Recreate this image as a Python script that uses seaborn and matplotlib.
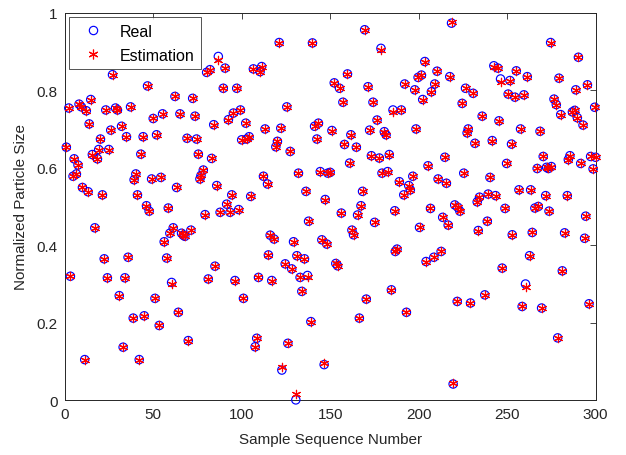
import matplotlib
matplotlib.use("Agg")
import matplotlib.pyplot as plt
import seaborn as sns
from matplotlib.lines import Line2D

x_vals = [
    0.9, 2.3, 3.2, 4.7, 5.3, 6.6, 7.5, 8.1, 9.4, 10.0,
    11.3, 12.2, 13.2, 13.8, 14.7, 15.6, 17.0, 18.5, 19.2, 20.2,
    21.3, 22.3, 23.2, 24.1, 24.9, 26.0, 27.0, 28.7, 29.8, 30.8,
    32.1, 33.0, 34.0, 34.9, 35.8, 37.2, 38.7, 39.2, 40.2, 41.1,
    42.1, 43.0, 44.3, 44.9, 46.2, 46.8, 47.7,
    49.1, 50.0, 51.0, 51.9, 53.4, 54.3, 55.3, 56.2, 57.6, 58.5,
    59.4, 60.4, 61.3, 62.3, 63.2, 64.2, 65.1, 66.0, 67.0, 67.9,
    69.1, 69.8, 71.3, 72.3, 73.6, 74.5, 75.5, 76.4, 77.0, 78.3,
    79.3, 80.2, 81.1, 82.1, 83.0, 84.2, 84.9, 85.9, 86.8, 87.8,
    89.6, 90.6, 91.5, 92.5, 93.4, 94.4, 95.3, 96.2, 97.2, 98.3,
    99.3, 100.0, 101.0, 102.3, 102.8, 104.2, 105.1, 106.6, 107.6, 108.5,
    109.5, 110.4, 111.3, 112.3, 113.2, 114.6, 115.1, 116.1, 117.0, 118.3,
    119.3, 120.2, 121.2, 122.1, 122.7, 124.6, 125.5, 126.1, 127.4, 128.3,
    129.3, 130.6, 131.2, 132.1, 133.0, 134.0, 135.5, 136.3, 137.2, 137.8,
    139.1, 140.0, 141.2, 142.5, 143.4, 144.4, 145.3, 146.6, 147.2, 148.1,
    148.7,
    150.0, 151.0, 152.3, 153.2, 154.2, 155.3, 156.3, 157.2, 158.1, 159.8,
    161.0, 161.7, 162.3, 163.2, 164.8, 165.5, 166.5, 167.4, 168.3, 169.5,
    170.4, 171.4, 172.3, 173.3, 174.2, 175.1, 176.5, 177.8, 178.7, 179.3,
    180.6, 181.6, 182.5, 183.4, 184.6, 185.5, 186.5, 186.8, 187.8, 189.1,
    190.2, 191.6, 192.1, 193.1, 194.4, 195.3, 196.7, 197.8, 198.5, 199.7,
    200.5, 201.6, 202.3, 203.5, 204.2, 205.3, 206.7, 207.2, 208.6, 209.1,
    210.4, 211.0, 212.7, 213.6, 214.8, 215.7, 216.7, 217.6, 218.6, 219.5,
    220.4, 221.8, 222.1, 223.3, 224.6, 225.5, 226.5, 227.4, 228.0, 229.3,
    230.8, 231.8, 233.1, 233.7, 234.4, 235.9, 237.4, 238.8, 239.3, 240.3,
    241.6, 242.5, 243.5, 244.8, 245.4, 246.3, 247.2, 248.8, 249.7, 250.6,
    251.6,
    252.5, 252.9, 254.4, 255.2, 256.7, 257.6, 258.5, 259.5, 260.4, 261.4,
    262.7, 263.3, 264.2, 265.7, 267.0, 267.6, 268.6, 269.5, 270.4, 271.8,
    272.3, 273.3, 273.7, 274.6, 275.0, 276.5, 277.8, 278.6, 279.3, 280.3,
    281.2, 282.5, 284.0, 284.6, 285.5, 286.9, 288.2, 288.8, 289.7, 290.3,
    291.6, 292.9, 293.8, 294.4, 295.4, 296.3, 297.2, 298.6, 299.5, 300.0,
]

real_vals = [
    0.653, 0.754, 0.320, 0.578, 0.623, 0.584, 0.607, 0.764, 0.757, 0.549,
    0.105, 0.747, 0.538, 0.713, 0.776, 0.634, 0.445, 0.623, 0.647, 0.674,
    0.530, 0.365, 0.749, 0.316, 0.647, 0.697, 0.840, 0.754, 0.749, 0.270,
    0.707, 0.137, 0.316, 0.680, 0.369, 0.757, 0.212, 0.569, 0.584, 0.530,
    0.105, 0.635, 0.680, 0.218, 0.502, 0.811, 0.488,
    0.571, 0.727, 0.263, 0.685, 0.193, 0.575, 0.739, 0.409, 0.367, 0.496,
    0.431, 0.304, 0.445, 0.784, 0.549, 0.227, 0.739, 0.431, 0.426, 0.423,
    0.676, 0.154, 0.439, 0.779, 0.733, 0.674, 0.635, 0.571, 0.580, 0.594,
    0.479, 0.846, 0.313, 0.853, 0.624, 0.711, 0.346, 0.554, 0.887, 0.485,
    0.805, 0.857, 0.506, 0.724, 0.485, 0.530, 0.741, 0.309, 0.805, 0.492,
    0.749, 0.672, 0.263, 0.715, 0.674, 0.680, 0.526, 0.855, 0.138, 0.160,
    0.317, 0.848, 0.861, 0.578, 0.700, 0.558, 0.375, 0.426, 0.309, 0.416,
    0.654, 0.668, 0.923, 0.702, 0.078, 0.352, 0.757, 0.147, 0.642, 0.339,
    0.409, 0.001, 0.373, 0.586, 0.317, 0.281, 0.365, 0.539, 0.322, 0.462,
    0.203, 0.922, 0.707, 0.674, 0.715, 0.590, 0.414, 0.092, 0.518, 0.403,
    0.586,
    0.588, 0.696, 0.819, 0.353, 0.347, 0.805, 0.483, 0.769, 0.660, 0.842,
    0.612, 0.685, 0.439, 0.427, 0.653, 0.478, 0.212, 0.502, 0.539, 0.956,
    0.261, 0.809, 0.697, 0.631, 0.769, 0.459, 0.723, 0.625, 0.908, 0.586,
    0.693, 0.685, 0.590, 0.634, 0.285, 0.749, 0.489, 0.384, 0.390, 0.564,
    0.749, 0.530, 0.816, 0.227, 0.554, 0.543, 0.578, 0.801, 0.700, 0.833,
    0.446, 0.839, 0.776, 0.874, 0.358, 0.605, 0.495, 0.796, 0.369, 0.816,
    0.849, 0.571, 0.384, 0.472, 0.627, 0.560, 0.452, 0.835, 0.973, 0.042,
    0.504, 0.255, 0.498, 0.488, 0.766, 0.586, 0.805, 0.690, 0.700, 0.251,
    0.792, 0.663, 0.512, 0.438, 0.524, 0.733, 0.272, 0.462, 0.532, 0.575,
    0.670, 0.863, 0.528, 0.857, 0.721, 0.829, 0.341, 0.495, 0.611, 0.790,
    0.825,
    0.661, 0.427, 0.782, 0.850, 0.543, 0.700, 0.242, 0.788, 0.300, 0.835,
    0.373, 0.543, 0.433, 0.496, 0.598, 0.500, 0.694, 0.238, 0.629, 0.528,
    0.601, 0.598, 0.488, 0.923, 0.603, 0.777, 0.763, 0.161, 0.831, 0.737,
    0.334, 0.432, 0.528, 0.621, 0.631, 0.744, 0.748, 0.801, 0.729, 0.885,
    0.611, 0.710, 0.418, 0.475, 0.814, 0.249, 0.629, 0.597, 0.756, 0.627,
]

est_vals = [
    0.653, 0.754, 0.320, 0.578, 0.623, 0.584, 0.607, 0.764, 0.757, 0.549,
    0.105, 0.747, 0.538, 0.713, 0.776, 0.634, 0.445, 0.623, 0.647, 0.674,
    0.530, 0.365, 0.749, 0.316, 0.647, 0.697, 0.840, 0.754, 0.749, 0.270,
    0.707, 0.137, 0.316, 0.680, 0.369, 0.757, 0.212, 0.569, 0.584, 0.530,
    0.105, 0.635, 0.680, 0.218, 0.502, 0.811, 0.488,
    0.571, 0.727, 0.263, 0.685, 0.193, 0.575, 0.739, 0.409, 0.367, 0.496,
    0.431, 0.300, 0.445, 0.784, 0.549, 0.227, 0.739, 0.431, 0.426, 0.423,
    0.676, 0.154, 0.439, 0.779, 0.733, 0.674, 0.635, 0.571, 0.580, 0.594,
    0.479, 0.846, 0.313, 0.853, 0.624, 0.711, 0.346, 0.554, 0.878, 0.485,
    0.805, 0.857, 0.506, 0.724, 0.485, 0.530, 0.741, 0.309, 0.805, 0.492,
    0.749, 0.672, 0.263, 0.715, 0.674, 0.680, 0.526, 0.855, 0.138, 0.160,
    0.317, 0.848, 0.861, 0.578, 0.700, 0.558, 0.375, 0.426, 0.309, 0.416,
    0.654, 0.668, 0.923, 0.702, 0.087, 0.352, 0.757, 0.147, 0.642, 0.339,
    0.409, 0.015, 0.373, 0.586, 0.317, 0.281, 0.365, 0.539, 0.317, 0.462,
    0.203, 0.922, 0.707, 0.674, 0.715, 0.590, 0.414, 0.095, 0.518, 0.403,
    0.586,
    0.588, 0.696, 0.819, 0.353, 0.347, 0.805, 0.483, 0.769, 0.660, 0.842,
    0.612, 0.685, 0.439, 0.427, 0.653, 0.478, 0.212, 0.502, 0.539, 0.956,
    0.261, 0.809, 0.697, 0.631, 0.769, 0.459, 0.723, 0.625, 0.905, 0.586,
    0.693, 0.685, 0.590, 0.634, 0.285, 0.744, 0.489, 0.384, 0.390, 0.564,
    0.749, 0.530, 0.816, 0.227, 0.554, 0.543, 0.578, 0.801, 0.700, 0.833,
    0.446, 0.839, 0.776, 0.874, 0.358, 0.605, 0.495, 0.796, 0.369, 0.816,
    0.849, 0.571, 0.384, 0.472, 0.627, 0.560, 0.452, 0.835, 0.976, 0.045,
    0.504, 0.255, 0.498, 0.488, 0.766, 0.586, 0.805, 0.690, 0.700, 0.251,
    0.792, 0.663, 0.512, 0.438, 0.524, 0.733, 0.272, 0.462, 0.532, 0.575,
    0.670, 0.860, 0.528, 0.857, 0.721, 0.822, 0.341, 0.495, 0.611, 0.790,
    0.825,
    0.661, 0.427, 0.782, 0.850, 0.543, 0.700, 0.242, 0.788, 0.293, 0.835,
    0.373, 0.543, 0.433, 0.496, 0.598, 0.500, 0.694, 0.238, 0.629, 0.528,
    0.601, 0.598, 0.488, 0.923, 0.603, 0.777, 0.763, 0.161, 0.831, 0.737,
    0.334, 0.432, 0.528, 0.621, 0.631, 0.744, 0.748, 0.801, 0.729, 0.885,
    0.611, 0.710, 0.418, 0.475, 0.814, 0.249, 0.629, 0.597, 0.756, 0.627,
]

x_ticks = [0, 50, 100, 150, 200, 250, 300]
y_ticks = [0, 0.2, 0.4, 0.6, 0.8, 1]
y_tick_labels = ["0", "0.2", "0.4", "0.6", "0.8", "1"]

sns.set_theme(style="white")
plt.rcParams["font.family"] = ["Liberation Sans", "DejaVu Sans"]
text_color = "#262626"

fig = plt.figure(figsize=(6.26, 4.56), dpi=100)
ax = fig.add_axes([0.1034, 0.12, 0.848, 0.85])

ast = (6, 2, 0)
sns.scatterplot(x=x_vals, y=real_vals, ax=ax, marker="o", s=36,
                facecolor="none", edgecolor="#0000ff", linewidth=0.85,
                zorder=3, legend=False, clip_on=False)
sns.scatterplot(x=x_vals, y=est_vals, ax=ax, marker=ast, s=36,
                color="#ff0000", edgecolor="#ff0000", linewidth=0.85,
                zorder=4, legend=False, clip_on=False)

ax.set_xlim(0, 300)
ax.set_ylim(0, 1)
ax.set_xticks(x_ticks)
ax.set_yticks(y_ticks)
ax.set_yticklabels(y_tick_labels)
ax.tick_params(direction="in", length=4, width=0.6, top=True, right=True,
               colors=text_color, labelsize=11, pad=5)
for sp in ax.spines.values():
    sp.set_color(text_color)
    sp.set_linewidth(0.7)
    sp.set_visible(True)
ax.set_xlabel("Sample Sequence Number", fontsize=11, color=text_color, labelpad=8)
ax.set_ylabel("Normalized Particle Size", fontsize=11, color=text_color, labelpad=6)

handles = [
    Line2D([], [], linestyle="none", marker="o", markersize=6,
           markerfacecolor="none", markeredgecolor="#0000ff", markeredgewidth=0.85),
    Line2D([], [], linestyle="none", marker=ast, markersize=7,
           color="#ff0000", markeredgewidth=0.85),
]
leg = ax.legend(handles, ["Real", "Estimation"], loc="upper left",
                bbox_to_anchor=(0.008, 0.988), fontsize=11.5, frameon=True,
                fancybox=False, edgecolor=text_color, handlelength=2.2,
                handletextpad=0.6, borderpad=0.4, labelspacing=0.55,
                borderaxespad=0.0)
leg.get_frame().set_linewidth(0.7)
for t in leg.get_texts():
    t.set_color("#000000")

fig.savefig("out.png", dpi=100)
